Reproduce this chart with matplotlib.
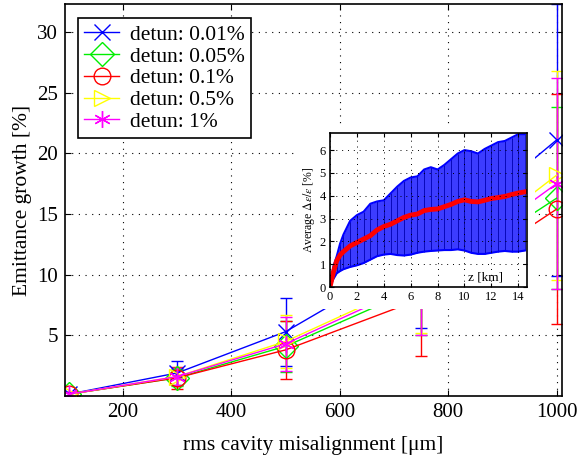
import matplotlib
matplotlib.use("Agg")
import matplotlib.pyplot as plt
from matplotlib.lines import Line2D
import numpy as np

plt.rcParams['font.family'] = ['Liberation Serif', 'DejaVu Serif']
plt.rcParams['mathtext.fontset'] = 'stix'

# main plot data
misalign = [100, 300, 500, 750, 1000]
labels = ['detun: 0.01%', 'detun: 0.05%', 'detun: 0.1%', 'detun: 0.5%', 'detun: 1%']
colors = ['blue', '#00ee00', 'red', 'yellow', 'magenta']
markers = ['x', 'D', 'o', '>', (6, 2, 0)]
growth = [
    [0.15, 1.9, 5.3, 11.8, 21.1],
    [0.15, 1.5, 4.1, 9.0, 16.3],
    [0.15, 1.5, 3.8, 8.0, 15.4],
    [0.15, 1.6, 4.5, 9.6, 18.2],
    [0.15, 1.6, 4.3, 9.4, 17.5],
]
growth_err = [
    [0.15, 1.0, 2.8, 6.2, 11.2],
    [0.15, 0.7, 2.1, 4.0, 7.5],
    [0.15, 0.9, 2.4, 4.7, 9.5],
    [0.15, 0.7, 2.2, 4.4, 8.6],
    [0.15, 0.7, 2.2, 4.4, 8.7],
]

# inset data
z_km = [0, 0.25, 0.5, 0.75, 1.0, 1.5, 2.0, 2.5, 3.0, 3.5, 4.0, 4.5, 5.0, 5.5, 6.0, 6.5,
        7.0, 7.5, 8.0, 8.5, 9.0, 9.5, 10.0, 10.5, 11.0, 11.5, 12.0, 12.5, 13.0, 13.5, 14.0, 14.5]
avg_growth = [0, 0.65, 1.15, 1.4, 1.55, 1.8, 1.95, 2.1, 2.25, 2.5, 2.65, 2.75, 2.9, 3.05, 3.15, 3.2,
              3.35, 3.4, 3.42, 3.52, 3.62, 3.75, 3.82, 3.75, 3.73, 3.8, 3.88, 3.92, 3.97, 4.05, 4.12, 4.17]
avg_upper = [0, 0.9, 1.35, 1.9, 2.3, 2.9, 3.15, 3.3, 3.65, 3.75, 3.8, 4.1, 4.4, 4.65, 4.8, 4.85,
             5.15, 5.25, 5.15, 5.35, 5.6, 5.85, 6.0, 5.95, 5.85, 6.05, 6.2, 6.35, 6.4, 6.55, 6.7, 6.7]
avg_lower = [0, 0.35, 0.6, 0.7, 0.78, 0.88, 0.95, 1.05, 1.2, 1.35, 1.42, 1.45, 1.4, 1.38, 1.42, 1.5,
             1.55, 1.58, 1.6, 1.62, 1.62, 1.65, 1.6, 1.5, 1.45, 1.45, 1.5, 1.55, 1.58, 1.55, 1.55, 1.6]

fig = plt.figure(figsize=(5.77, 4.55), dpi=100)
ax = fig.add_axes([0.1127, 0.1297, 0.8613, 0.8613])

handles = []
for i in range(5):
    ax.errorbar(misalign, growth[i], yerr=growth_err[i], color=colors[i], marker=markers[i],
                markersize=12, mfc='none', mec=colors[i], mew=1.0, lw=1.0, elinewidth=1.0,
                capsize=4, capthick=1.0)
    handles.append(Line2D([], [], color=colors[i], marker=markers[i], markersize=12,
                          mfc='none', mec=colors[i], mew=1.0, lw=1.0, label=labels[i]))

ax.set_xlim(93, 1010)
ax.set_ylim(0, 32.3)
ax.set_xticks([200, 400, 600, 800, 1000])
ax.set_yticks([5, 10, 15, 20, 25, 30])
ax.tick_params(direction='in', top=True, right=True, length=4, labelsize=15, width=0.8, pad=5)
ax.grid(True, linestyle=(0, (1, 5)), color='black', linewidth=0.8)
for s in ax.spines.values():
    s.set_linewidth(1.2)
ax.set_xlabel('rms cavity misalignment [μm]', fontsize=15.5, labelpad=10)
ax.set_ylabel('Emittance growth [%]', fontsize=15.5, labelpad=4)

leg = ax.legend(handles=handles, loc='upper left', bbox_to_anchor=(0.026, 0.964), fontsize=15.5,
                handlelength=1.6, labelspacing=0.08, borderpad=0.3, handletextpad=0.5,
                borderaxespad=0, fancybox=False, edgecolor='black', framealpha=1)
leg.get_frame().set_linewidth(1.2)

# white area under the inset (covers its tick labels)
bg = fig.add_axes([295 / 577, (455 - 309) / 455, (535 - 295) / 577, (309 - 128) / 455])
bg.set_facecolor('white')
bg.set_xticks([])
bg.set_yticks([])
for s in bg.spines.values():
    s.set_visible(False)
bg.set_zorder(2)

ins = fig.add_axes([330 / 577, (455 - 287) / 455, 197 / 577, 154 / 455])
ins.set_zorder(3)
ins.fill_between(z_km, avg_lower, avg_upper, color='#3c3cff', lw=0)
ins.vlines(z_km, avg_lower, avg_upper, color='#0000b0', lw=0.6)
ins.plot(z_km, avg_upper, color='blue', lw=1.5)
ins.plot(z_km, avg_lower, color='blue', lw=1.5)
ins.plot(z_km, avg_growth, color='red', lw=3.5)
ins.set_xlim(0, 14.65)
ins.set_ylim(0, 6.75)
ins.set_xticks(range(0, 15, 2))
ins.set_yticks(range(0, 7))
ins.tick_params(direction='in', top=True, right=True, length=3, labelsize=9, pad=3)
ins.grid(True, linestyle=(0, (1, 5)), color='black', linewidth=0.7)
ins.set_axisbelow(False)
for s in ins.spines.values():
    s.set_linewidth(1.2)
ins.set_ylabel(r'Average $\Delta\varepsilon/\varepsilon$ [%]', fontsize=8.5, labelpad=2)
ins.text(11.6, 0.42, 'z [km]', fontsize=9.5, ha='center', va='center')

fig.savefig('out.png', dpi=100)
